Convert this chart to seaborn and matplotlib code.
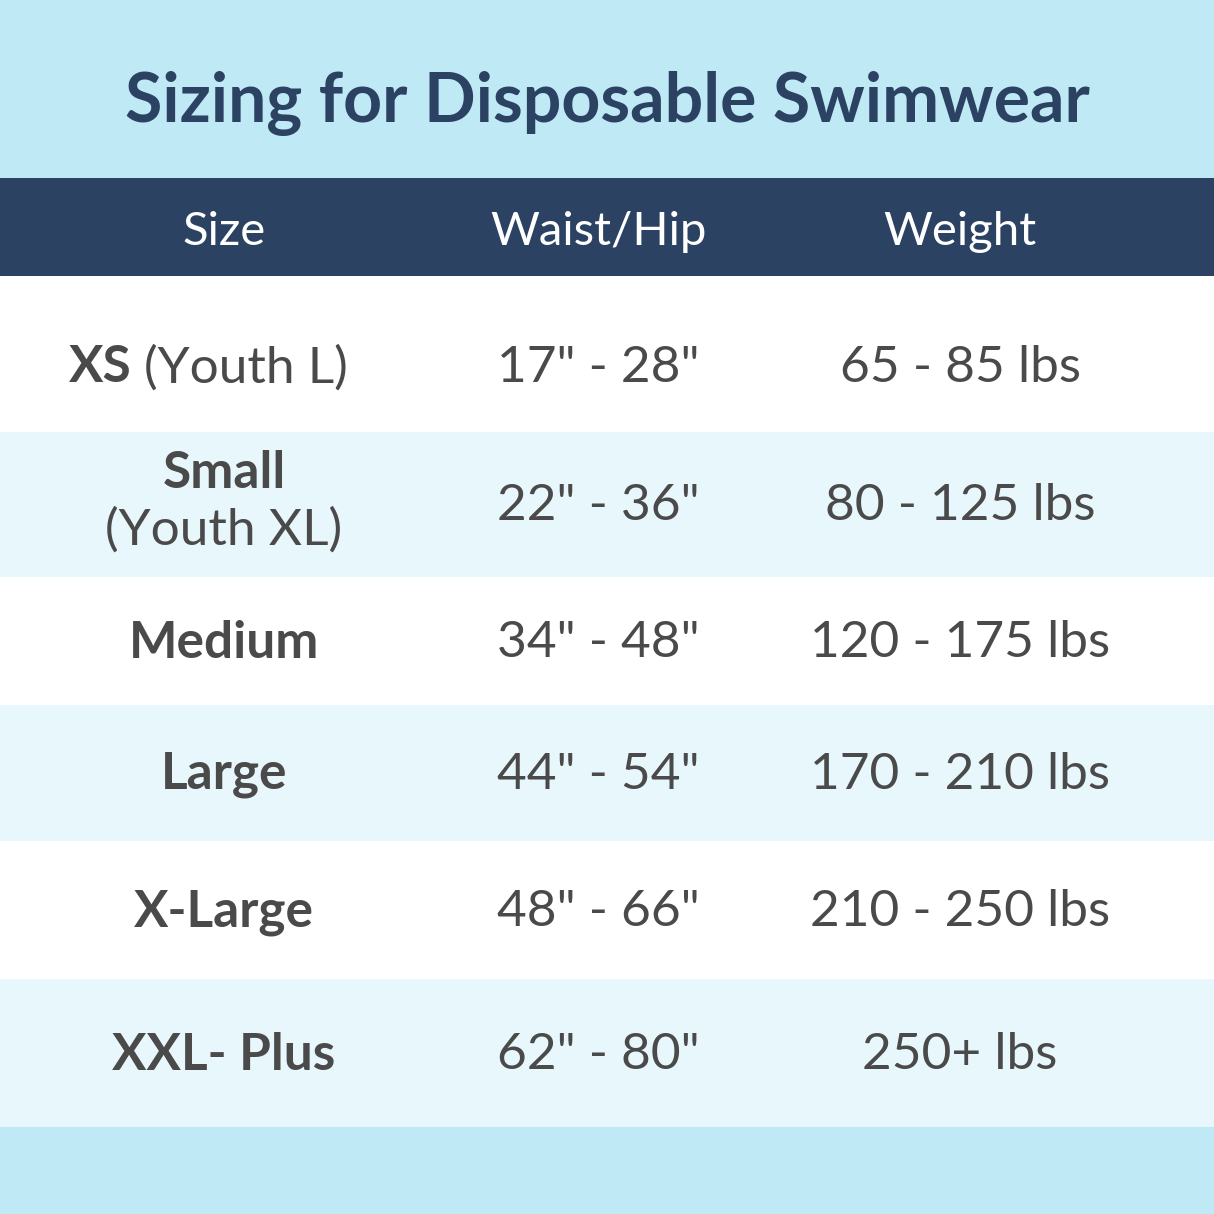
import matplotlib
matplotlib.use("Agg")
import matplotlib.pyplot as plt
import seaborn as sns

sns.set_theme(style="white")
plt.rcParams['font.family'] = ['Lato', 'DejaVu Sans']

title = "Sizing for Disposable Swimwear"
headers = ["Size", "Waist/Hip", "Weight"]
sizes = ["XS", "Small", "Medium", "Large", "X-Large", "XXL- Plus"]
size_notes = ["(Youth L)", "(Youth XL)", "", "", "", ""]
waist = ['17" - 28"', '22" - 36"', '34" - 48"', '44" - 54"', '48" - 66"', '62" - 80"']
weight = ["65 - 85 lbs", "80 - 125 lbs", "120 - 175 lbs", "170 - 210 lbs", "210 - 250 lbs", "250+ lbs"]
row_edges = [276, 432, 577, 705, 841, 979, 1127]

SKY = "#c0e9f6"; NAVY = "#2b4263"; PALE = "#e8f7fc"; TXT = "#4a4a4a"
col_x = [224, 598, 960]

fig = plt.figure(figsize=(12.14, 12.14), dpi=100)
ax = fig.add_axes([0, 0, 1, 1])
ax.set_xlim(0, 1214); ax.set_ylim(1214, 0); ax.axis("off")

ax.axhspan(0, 178, color=SKY, lw=0)
ax.axhspan(178, 276, color=NAVY, lw=0)
ax.axhspan(1127, 1214, color=SKY, lw=0)
for i in range(len(sizes)):
    ax.axhspan(row_edges[i], row_edges[i+1], color="white" if i % 2 == 0 else PALE, lw=0)

ax.text(607, 103, title, ha="center", va="center", fontsize=49, fontweight="bold", color=NAVY)
for x, h in zip(col_x, headers):
    ax.text(x, 232, h, ha="center", va="center", fontsize=34, color="white")

for i in range(len(sizes)):
    yc = (row_edges[i] + row_edges[i+1]) / 2
    if i == 0:
        ax.text(132, 368, sizes[i], ha="right", va="center", fontsize=37, fontweight="bold", color=TXT)
        ax.text(144, 368, size_notes[i], ha="left", va="center", fontsize=37, color=TXT)
    elif size_notes[i]:
        ax.text(col_x[0], 474, sizes[i], ha="center", va="center", fontsize=37, fontweight="bold", color=TXT)
        ax.text(col_x[0], 530, size_notes[i], ha="center", va="center", fontsize=37, color=TXT)
    else:
        ax.text(col_x[0], yc + 2, sizes[i], ha="center", va="center", fontsize=37, fontweight="bold", color=TXT)
    yy = 368 if i == 0 else yc + 2
    ax.text(col_x[1], yy, waist[i], ha="center", va="center", fontsize=37, color=TXT)
    ax.text(col_x[2], yy, weight[i], ha="center", va="center", fontsize=37, color=TXT)

fig.savefig("out.png", dpi=100)
